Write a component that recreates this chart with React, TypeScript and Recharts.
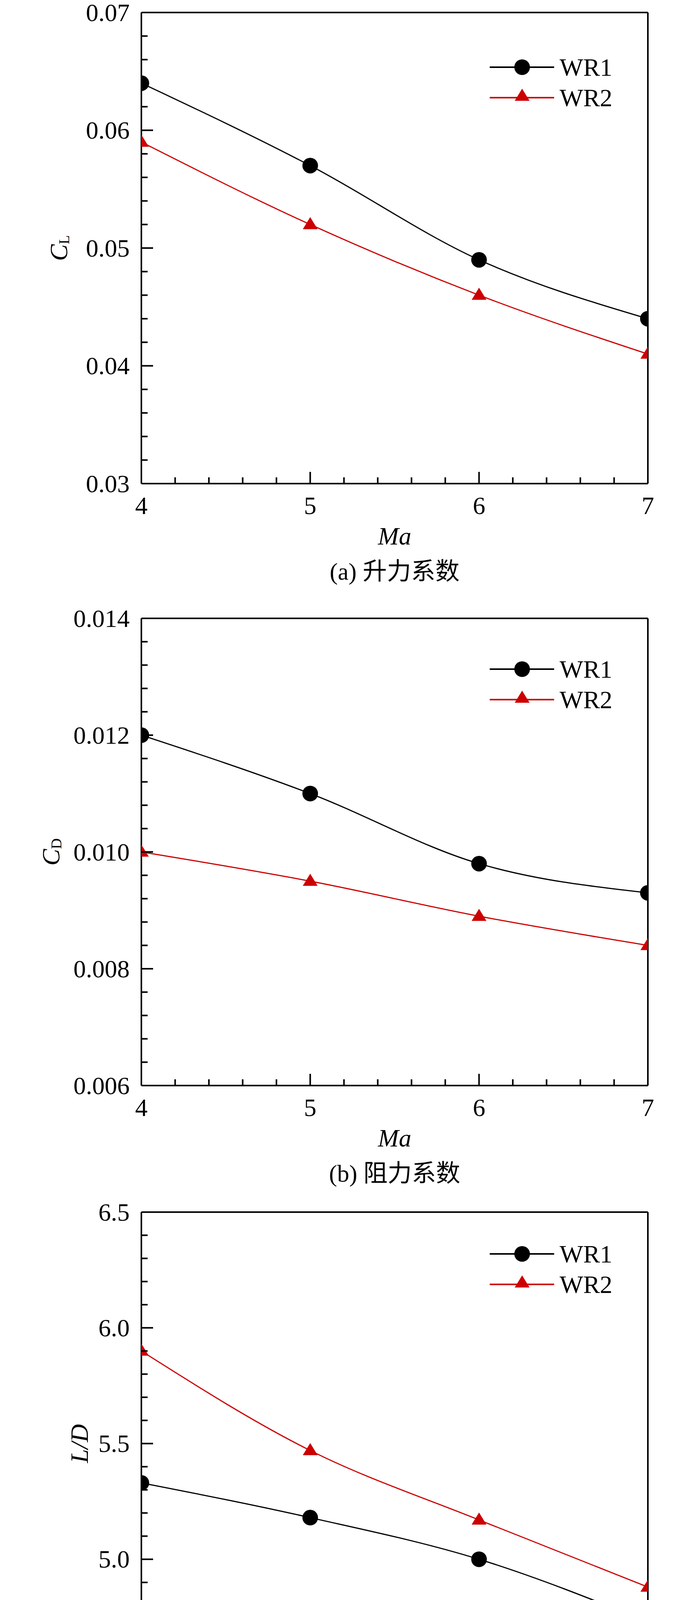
import React from 'react';
import { LineChart, Line, XAxis, YAxis, ReferenceLine, Legend } from 'recharts';

// Mach numbers
const MA = [4, 5, 6, 7];
const MA_MAJOR = [4, 5, 6, 7];

// (a) lift coefficient
const CL_WR1 = [0.064, 0.057, 0.049, 0.044];
const CL_WR2 = [0.059, 0.052, 0.046, 0.041];
const CL_TICKS = [0.03, 0.04, 0.05, 0.06, 0.07];

// (b) drag coefficient
const CD_WR1 = [0.012, 0.011, 0.0098, 0.0093];
const CD_WR2 = [0.01, 0.0095, 0.0089, 0.0084];
const CD_TICKS = [0.006, 0.008, 0.01, 0.012, 0.014];

// (c) lift / drag
const LD_WR1 = [5.33, 5.18, 5.0, 4.73];
const LD_WR2 = [5.9, 5.47, 5.17, 4.88];
const LD_TICKS = [4.5, 5.0, 5.5, 6.0, 6.5];

// (d) pitching moment coefficient
const CM_WR1 = [0.041, 0.035, 0.031, 0.029];
const CM_WR2 = [0.037, 0.032, 0.029, 0.027];
const CM_TICKS = [0.02, 0.03, 0.04, 0.05];

// (e) total pressure recovery
const SIG_WR1 = [0.96, 0.94, 0.9, 0.87];
const SIG_WR2 = [0.97, 0.95, 0.92, 0.88];
const SIG_TICKS = [0.84, 0.88, 0.92, 0.96, 1.0];

const SERIES = [
  { key: 'wr1', name: 'WR1', color: '#000000', marker: 'circle' },
  { key: 'wr2', name: 'WR2', color: '#cc0000', marker: 'triangle' },
];

const FONT = '"Liberation Serif", "Times New Roman", "Noto Sans CJK SC", serif';
const W = 1772;
const PLOT_LEFT = 362;
const PLOT_RIGHT = 1659;
const TOP_PAD = 60;
const AXIS_H = 290;
const Y_AXIS_W = 250;
const FS = 64;

const PANELS = [
  { id: 'a', top: 32, bottom: 1238, wr1: CL_WR1, wr2: CL_WR2, majors: CL_TICKS, digits: 2, main: 'C', sub: 'L', labelX: 150, legendY: 140, caption: '(a) 升力系数' },
  { id: 'b', top: 1583, bottom: 2779, wr1: CD_WR1, wr2: CD_WR2, majors: CD_TICKS, digits: 3, main: 'C', sub: 'D', labelX: 130, legendY: 130, caption: '(b) 阻力系数' },
  { id: 'c', top: 3103, bottom: 4288, wr1: LD_WR1, wr2: LD_WR2, majors: LD_TICKS, digits: 1, main: 'L/D', sub: '', labelX: 203, legendY: 107, caption: '(c) 升阻比' },
  { id: 'd', top: 4626, bottom: 5858, wr1: CM_WR1, wr2: CM_WR2, majors: CM_TICKS, digits: 2, main: 'C', sub: 'M', labelX: 158, legendY: 154, caption: '(d) 俯仰力矩系数' },
  { id: 'e', top: 6200, bottom: 7377, wr1: SIG_WR1, wr2: SIG_WR2, majors: SIG_TICKS, digits: 2, main: 'σ', sub: '', labelX: 165, legendY: 114, caption: '(e) 总压恢复系数' },
];

// minor ticks between each pair of majors
function subdivide(majors: number[], n: number) {
  const out: number[] = [];
  for (let i = 0; i < majors.length - 1; i++) {
    const step = (majors[i + 1] - majors[i]) / n;
    for (let k = 0; k < n; k++) out.push(+(majors[i] + k * step).toFixed(6));
  }
  out.push(majors[majors.length - 1]);
  return out;
}

const isMajor = (v: number, majors: number[]) => majors.some((m) => Math.abs(m - v) < 1e-7);

const MA_TICKS = subdivide(MA_MAJOR, 5);

const circleDot = (p: any) => {
  if (p.cx == null || p.cy == null) return <g key={`c-${p.index}`} />;
  return <circle key={`c-${p.index}`} cx={p.cx} cy={p.cy} r={20} fill="#000" />;
};

const triPoints = (cx: number, cy: number) => `${cx},${cy - 19} ${cx - 19},${cy + 12} ${cx + 19},${cy + 12}`;

const triDot = (p: any) => {
  if (p.cx == null || p.cy == null) return <g key={`t-${p.index}`} />;
  return <polygon key={`t-${p.index}`} points={triPoints(p.cx, p.cy)} fill="#cc0000" />;
};

const makeYTick = (majors: number[], digits: number) => (props: any) => {
  const { x, y, payload } = props;
  const major = isMajor(payload.value, majors);
  const ax = x + 30;
  return (
    <g>
      <line x1={ax} x2={ax + (major ? 30 : 16)} y1={y} y2={y} stroke="#000" strokeWidth={4} />
      {major && (
        <text x={x} y={y} textAnchor="end" dominantBaseline="central" fontFamily={FONT} fontSize={FS} fill="#000">
          {payload.value.toFixed(digits)}
        </text>
      )}
    </g>
  );
};

const XTick = (props: any) => {
  const { x, y, payload } = props;
  const major = isMajor(payload.value, MA_MAJOR);
  const ay = y - 33;
  return (
    <g>
      <line x1={x} x2={x} y1={ay} y2={ay - (major ? 30 : 16)} stroke="#000" strokeWidth={4} />
      {major && (
        <text x={x} y={y} dy="0.71em" textAnchor="middle" fontFamily={FONT} fontSize={FS} fill="#000">
          {payload.value}
        </text>
      )}
    </g>
  );
};

const LegendBox = () => (
  <svg width={420} height={170}>
    {SERIES.map((s, i) => {
      const cy = 40 + i * 78;
      return (
        <g key={s.key}>
          <line x1={0} x2={165} y1={cy} y2={cy} stroke={s.color} strokeWidth={4} />
          {s.marker === 'circle' ? (
            <circle cx={83} cy={cy} r={20} fill={s.color} />
          ) : (
            <polygon points={triPoints(83, cy - 4)} fill={s.color} />
          )}
          <text x={179} y={cy} dominantBaseline="central" fontFamily={FONT} fontSize={FS} fill="#000">
            {s.name}
          </text>
        </g>
      );
    })}
  </svg>
);

const Panel = ({ p }: { p: (typeof PANELS)[number] }) => {
  const data = MA.map((ma, i) => ({ ma, wr1: p.wr1[i], wr2: p.wr2[i] }));
  const yMin = p.majors[0];
  const yMax = p.majors[p.majors.length - 1];
  const yTicks = subdivide(p.majors, 5);
  const plotH = p.bottom - p.top;
  const height = TOP_PAD + plotH + AXIS_H;

  return (
    <div style={{ position: 'absolute', left: 0, top: p.top - TOP_PAD, width: W, height }}>
      <LineChart
        width={W}
        height={height}
        data={data}
        margin={{ top: TOP_PAD, right: W - PLOT_RIGHT, left: PLOT_LEFT - Y_AXIS_W, bottom: 0 }}
      >
        <XAxis
          dataKey="ma"
          type="number"
          domain={[4, 7]}
          ticks={MA_TICKS}
          interval={0}
          allowDataOverflow
          height={AXIS_H}
          tickLine={false}
          tickSize={0}
          tickMargin={33}
          axisLine={{ stroke: '#000', strokeWidth: 4 }}
          tick={XTick}
          label={{
            content: (lp: any) => {
              const vb = lp.viewBox || {};
              const cx = vb.x + vb.width / 2;
              return (
                <g>
                  <text x={cx} y={vb.y + 134} textAnchor="middle" dominantBaseline="central" fontFamily={FONT} fontSize={FS} fontStyle="italic" fill="#000">
                    Ma
                  </text>
                  <text x={cx} y={vb.y + 225} textAnchor="middle" dominantBaseline="central" fontFamily={FONT} fontSize={62} fill="#000">
                    {p.caption}
                  </text>
                </g>
              );
            },
          }}
        />
        <YAxis
          type="number"
          domain={[yMin, yMax]}
          ticks={yTicks}
          interval={0}
          allowDataOverflow
          width={Y_AXIS_W}
          tickLine={false}
          tickSize={0}
          tickMargin={30}
          axisLine={{ stroke: '#000', strokeWidth: 4 }}
          tick={makeYTick(p.majors, p.digits)}
          label={{
            content: (lp: any) => {
              const vb = lp.viewBox || {};
              const cy = vb.y + vb.height / 2;
              const lx = p.labelX;
              return (
                <text
                  x={lx}
                  y={cy}
                  transform={`rotate(-90, ${lx}, ${cy})`}
                  textAnchor="middle"
                  dominantBaseline="central"
                  fontFamily={FONT}
                  fontSize={FS}
                  fill="#000"
                >
                  <tspan fontStyle="italic">{p.main}</tspan>
                  {p.sub && (
                    <tspan fontSize={38} dy={14}>
                      {p.sub}
                    </tspan>
                  )}
                </text>
              );
            },
          }}
        />
        <ReferenceLine y={yMax} stroke="#000" strokeWidth={4} />
        <ReferenceLine x={7} stroke="#000" strokeWidth={4} />
        <Legend
          layout="vertical"
          align="center"
          verticalAlign="middle"
          wrapperStyle={{ left: 1254, top: TOP_PAD + p.legendY - 40, width: 420, height: 170 }}
          content={() => <LegendBox />}
        />
        <Line dataKey="wr1" name="WR1" type="monotone" stroke="#000" strokeWidth={3} dot={circleDot} activeDot={false} isAnimationActive={false} />
        <Line dataKey="wr2" name="WR2" type="monotone" stroke="#cc0000" strokeWidth={3} dot={triDot} activeDot={false} isAnimationActive={false} />
      </LineChart>
    </div>
  );
};

export default function App() {
  return (
    <div style={{ position: 'absolute', left: 0, top: 0, width: W, height: 7643, background: '#fff', overflow: 'hidden' }}>
      {PANELS.map((p) => (
        <Panel key={p.id} p={p} />
      ))}
    </div>
  );
}
